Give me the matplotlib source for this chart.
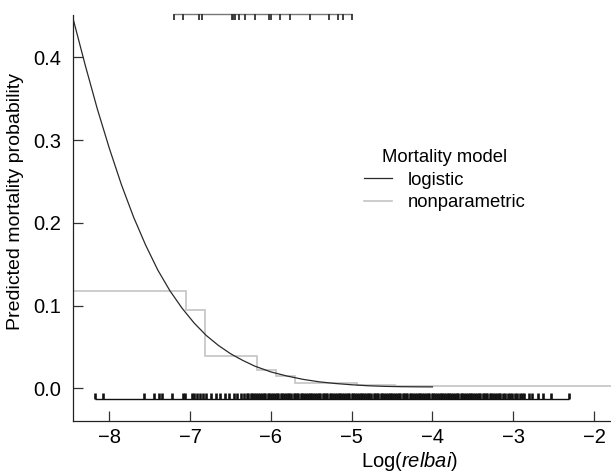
import numpy as np
import matplotlib
matplotlib.use("Agg")
import matplotlib.pyplot as plt

plt.rcParams.update({
    "font.family": ["Liberation Sans", "DejaVu Sans"],
    "mathtext.fontset": "custom",
    "mathtext.rm": "Liberation Sans",
    "mathtext.it": "Liberation Sans:italic",
    "font.size": 13,
})

# Logistic model curve
logit_x = [-8.45, -8.30, -8.15, -8.00, -7.85, -7.70, -7.55, -7.40, -7.25, -7.10,
           -6.95, -6.80, -6.65, -6.50, -6.35, -6.20, -6.00, -5.80, -5.60, -5.40,
           -5.20, -5.00, -4.80, -4.60, -4.40, -4.20, -4.00]
logit_p = [0.447, 0.391, 0.338, 0.290, 0.246, 0.207, 0.173, 0.143, 0.118, 0.097,
           0.079, 0.064, 0.052, 0.042, 0.034, 0.027, 0.020, 0.015, 0.011, 0.008,
           0.006, 0.0045, 0.0033, 0.0026, 0.0022, 0.0020, 0.0019]

# Nonparametric step estimate (edges and levels)
np_edges = [-8.45, -7.05, -6.815, -6.168, -5.936, -5.70, -4.94, -4.46, -1.79]
np_levels = [0.118, 0.095, 0.0394, 0.0224, 0.0152, 0.0063, 0.004, 0.0024]

# Rug of dead trees (top) and live trees (bottom), Log(relbai)
dead_x = [-7.205, -7.094, -6.896, -6.847, -6.485, -6.467, -6.448, -6.399, -6.321,
          -6.193, -6.025, -5.995, -5.886, -5.765, -5.510, -5.275, -5.168, -5.111, -5.000]
live_x = [-8.177, -8.074, -7.568, -7.444, -7.386, -7.346, -7.230, -7.086, -7.065,
          -6.983, -6.954, -6.921, -6.880, -6.840, -6.806, -6.744, -6.683, -6.625,
          -6.572, -6.522, -6.457, -6.415, -6.374, -6.337,
          -6.30, -6.28, -6.25, -6.23, -6.21, -6.18, -6.16, -6.14, -6.11, -6.09, -6.07,
          -6.04, -6.02, -6.00, -5.97, -5.95, -5.93, -5.91, -5.88, -5.86, -5.84, -5.81,
          -5.79, -5.77, -5.75, -5.72, -5.70, -5.68, -5.66, -5.63, -5.61, -5.59, -5.57,
          -5.54, -5.52, -5.50, -5.48, -5.45, -5.43, -5.41, -5.39, -5.36, -5.34, -5.32,
          -5.30, -5.27, -5.25, -5.23, -5.21, -5.18, -5.16, -5.14, -5.12, -5.09, -5.07,
          -5.05, -5.03, -5.00, -4.98, -4.96, -4.94, -4.91, -4.89, -4.87, -4.85, -4.82,
          -4.80, -4.78, -4.76, -4.73, -4.71, -4.69, -4.67, -4.64, -4.62, -4.60, -4.58,
          -4.55, -4.53, -4.51, -4.49, -4.46, -4.44, -4.42, -4.40, -4.37, -4.35, -4.33,
          -4.31, -4.28, -4.26, -4.24, -4.22, -4.19, -4.17, -4.15, -4.13, -4.10, -4.08,
          -4.06, -4.04, -4.01, -3.99, -3.97, -3.95, -3.92, -3.90, -3.88, -3.86, -3.83,
          -3.81, -3.79, -3.77, -3.74, -3.72, -3.70, -3.68, -3.65, -3.63, -3.61, -3.59,
          -3.56, -3.54, -3.52, -3.50, -3.47, -3.45, -3.43, -3.41, -3.38, -3.36, -3.34,
          -3.32, -3.29, -3.27, -3.25, -3.23, -3.20, -3.18, -3.16, -3.13, -3.10, -3.07,
          -3.04, -3.01, -2.98, -2.95, -2.92, -2.89,
          -2.868, -2.806, -2.765, -2.691, -2.633, -2.538, -2.312]

xticks = [-8, -7, -6, -5, -4, -3, -2]
yticks = [0.0, 0.1, 0.2, 0.3, 0.4]

fig = plt.figure(figsize=(6.11, 4.76), dpi=100)
ax = fig.add_axes([0.12, 0.1162, 0.88, 0.8523])

ax.plot(logit_x, logit_p, color="#2a2a2a", lw=0.9, label="logistic")
ax.stairs(np_levels, np_edges, color="#c4c4c4", lw=1.2, baseline=None,
          label="nonparametric")

# rugs
y_top, y_bot = 0.452, -0.0127
tick_h = 0.0075
ax.hlines(y_top, min(dead_x), max(dead_x), color="#777777", lw=1.0, clip_on=False)
ax.vlines(dead_x, y_top - tick_h, y_top, color="#333333", lw=1.3, clip_on=False)
ax.hlines(y_bot, min(live_x), max(live_x), color="#111111", lw=1.0)
ax.vlines(live_x, y_bot, y_bot + tick_h, color="#111111", lw=1.9)

ax.set_xlim(-8.446, -1.79)
ax.set_ylim(-0.0389, 0.4511)
ax.set_xticks(xticks)
ax.set_yticks(yticks)
ax.set_yticklabels([f"{v:.1f}" for v in yticks])
ax.tick_params(direction="in", length=7.5, width=0.9, color="#333333",
               labelsize=14.5)
ax.tick_params(axis="x", pad=5)
ax.tick_params(axis="y", pad=9)
for side in ["top", "right"]:
    ax.spines[side].set_visible(False)
for side in ["left", "bottom"]:
    ax.spines[side].set_linewidth(0.9)
    ax.spines[side].set_color("#222222")

ax.set_xlabel("Log($\\mathit{relbai}$)", fontsize=14.5)
ax.xaxis.set_label_coords(0.626, -0.072)
ax.set_ylabel("Predicted mortality probability", fontsize=14)
ax.yaxis.set_label_coords(-0.092, 0.54)

ax.legend(title="Mortality model", frameon=False, loc="upper left",
          bbox_to_anchor=(364 / 611, 1 - 149 / 476), bbox_transform=fig.transFigure,
          handlelength=1.5, handletextpad=0.85, labelspacing=0.3,
          borderpad=0, borderaxespad=0, fontsize=13.3, title_fontsize=13.3)

fig.savefig("out.png", dpi=100)
